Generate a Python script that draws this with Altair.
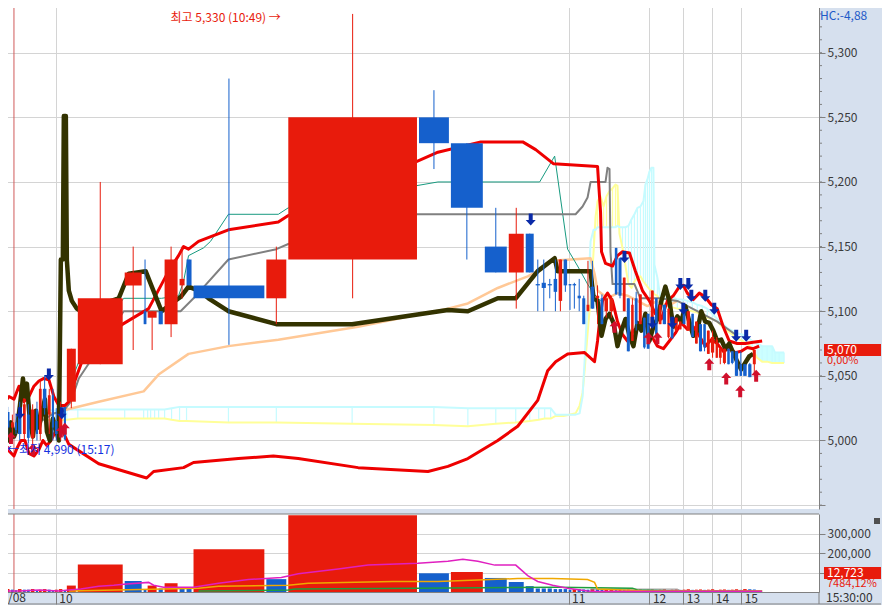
import altair as alt
import pandas as pd

FONT = "Noto Sans CJK KR"
RED, BLUE = "#E81B0C", "#1560CC"

# ---------------- candles (equivolume: width = traded volume) ----------------
volumes = [12000, 9000, 15000, 12000, 9000, 15000, 12000, 12000, 15000, 9000, 12000, 15000, 12000, 9000, 12000, 15000, 9000,
           33000, 141000, 57000, 12000, 33000, 18000, 45000, 21000, 21000, 219000, 66000, 393000, 96000, 102000, 72000,
           51000, 30000, 18000, 18000, 18000, 15000, 15000, 15000,
           12000, 15000, 14000, 13000,
           12000, 16000, 14000, 12000, 15000, 16000, 11000, 13000, 12000, 13000, 11000, 12000, 13000, 11000, 12000,
           13000, 11000, 12000, 14000, 10000, 12000, 13000, 11000, 12000, 14000, 11000, 12000, 13000, 11000, 12000,
           14000, 10000, 12000, 13000, 11000, 12000, 14000, 11000,
           15000, 14000, 12723]
opens = [5030, 5008, 5022, 5010, 5014, 5025, 5005, 5020, 5002, 5024, 5005, 5040, 5020, 5035, 5015, 5005, 5026,
         5030, 5059, 5120, 5100, 5095, 5100, 5090, 5120, 5140, 5120, 5110, 5140, 5250, 5230, 5150,
         5130, 5160, 5121, 5122, 5121, 5125, 5108, 5140,
         5121, 5121, 5112, 5110,
         5100, 5119, 5110, 5110, 5100, 5100, 5149, 5141, 5100, 5110, 5077, 5110, 5090, 5095, 5098,
         5090, 5110, 5090, 5105, 5080, 5095, 5085, 5086, 5100, 5085, 5098, 5075, 5090, 5090, 5067,
         5068, 5064, 5064, 5060, 5071, 5069, 5069, 5059,
         5059, 5059, 5059]
highs = [5034, 5030, 5026, 5020, 5020, 5030, 5032, 5028, 5028, 5030, 5046, 5050, 5040, 5040, 5025, 5030, 5026,
         5071, 5200, 5150, 5140, 5100, 5100, 5150, 5150, 5140, 5280, 5150, 5330, 5271, 5230, 5180,
         5180, 5160, 5140, 5140, 5125, 5140, 5140, 5140,
         5121, 5122, 5125, 5112,
         5139, 5139, 5120, 5113, 5110, 5112, 5149, 5141, 5126, 5110, 5110, 5115, 5113, 5095, 5098,
         5116, 5110, 5105, 5105, 5102, 5095, 5095, 5092, 5100, 5100, 5098, 5092, 5090, 5090, 5085,
         5085, 5080, 5071, 5071, 5071, 5069, 5069, 5069,
         5059, 5060, 5070]
lows = [5006, 4990, 5004, 5000, 5005, 5000, 5000, 4998, 4995, 5000, 5000, 5020, 5005, 5000, 5000, 5000, 5000,
        5025, 5059, 5070, 5090, 5070, 5090, 5080, 5110, 5120, 5074, 5090, 5110, 5210, 5140, 5130,
        5102, 5130, 5100, 5100, 5110, 5100, 5100, 5115,
        5101, 5102, 5100, 5090,
        5100, 5102, 5090, 5090, 5095, 5095, 5113, 5110, 5100, 5069, 5077, 5085, 5090, 5071, 5071,
        5090, 5082, 5090, 5090, 5079, 5079, 5085, 5086, 5090, 5085, 5080, 5075, 5069, 5069, 5067,
        5064, 5064, 5059, 5059, 5059, 5059, 5050, 5050,
        5050, 5049, 5050]
closes = [5010, 5025, 5010, 5014, 5008, 5005, 5028, 5002, 5024, 5005, 5040, 5025, 5035, 5010, 5005, 5020, 5001,
          5071, 5110, 5130, 5090, 5100, 5090, 5140, 5125, 5120, 5110, 5140, 5250, 5230, 5180, 5130,
          5160, 5130, 5120, 5118, 5120, 5115, 5140, 5120,
          5120, 5120, 5110, 5090,
          5105, 5102, 5112, 5090, 5110, 5110, 5113, 5112, 5126, 5069, 5105, 5090, 5113, 5072, 5071,
          5116, 5082, 5105, 5090, 5102, 5079, 5095, 5092, 5090, 5100, 5080, 5092, 5069, 5072, 5085,
          5080, 5078, 5071, 5071, 5059, 5060, 5050, 5050,
          5050, 5049, 5070]

# x axis: cumulative volume in thousand shares; hour boundaries
hour_pos = [171, 1713, 1956, 2058, 2145, 2232]
hour_lab = ["10", "11", "12", "13", "14", "15"]
day_sep = [45]
date_lab = "/08"
end_time = "15:30:00"
x_max = 2466

# ---------------- indicator lines (x: thousand shares, value: price) ----------------
ma_x = [0, 9, 18, 27, 36, 45, 54, 63, 72, 78, 84, 93, 102, 111, 120, 129, 138, 144, 153, 162,
        171, 180, 186, 192, 195, 201, 204, 210, 219, 234, 246, 360, 390, 441, 489, 519, 546, 570, 600, 630,
        690, 834, 1062, 1299, 1350, 1410, 1500, 1554, 1620, 1671, 1680, 1779, 1788, 1800, 1812, 1824, 1836, 1848, 1860, 1872,
        1884, 1896, 1908, 1920, 1932, 1944, 1956, 1968, 1980, 1992, 2004, 2016, 2028, 2040, 2052, 2064, 2076, 2088, 2100, 2112,
        2124, 2136, 2148, 2160, 2172, 2184, 2196, 2208, 2220, 2232, 2244, 2256, 2268]
ma_v = [5015, 5024, 5007, 5000, 5014, 5003, 5009, 5027, 5048, 5034, 5044, 5015, 5003, 5023, 5010, 5021, 5032, 5007, 5000, 5017,
        5009, 5000, 5140, 5140, 5251, 5251, 5140, 5116, 5108, 5102, 5100, 5110, 5129, 5131, 5100, 5106, 5111, 5119, 5116, 5110,
        5100, 5090, 5090, 5099, 5101, 5100, 5110, 5110, 5131, 5141, 5131, 5131, 5110, 5108, 5081, 5094, 5098, 5091, 5073, 5085,
        5094, 5081, 5073, 5091, 5085, 5098, 5077, 5088, 5094, 5108, 5119, 5108, 5088, 5096, 5092, 5104, 5092, 5081, 5085, 5100,
        5092, 5091, 5085, 5077, 5078, 5071, 5075, 5068, 5061, 5055, 5060, 5065, 5067]

bbu_x = [0, 15, 30, 45, 60, 75, 90, 105, 120, 135, 150, 165, 180, 198, 210, 225, 255, 300, 372, 450,
         510, 540, 555, 570, 600, 690, 840, 870, 1257, 1320, 1449, 1575, 1614, 1668, 1800, 1803, 1809, 1812, 1824, 1845,
         1860, 1875, 1896, 1914, 1935, 1956, 1974, 1992, 2010, 2028, 2046, 2058, 2070, 2088, 2106, 2124, 2142, 2160, 2178, 2196,
         2220, 2244, 2268, 2295]
bbu_v = [5027, 5029, 5034, 5032, 5042, 5030, 5034, 5042, 5046, 5048, 5047, 5034, 5027, 5027, 5030, 5044, 5065, 5077, 5090, 5102,
         5131, 5143, 5150, 5148, 5154, 5163, 5169, 5174, 5216, 5223, 5231, 5231, 5225, 5214, 5212, 5200, 5177, 5146, 5137, 5135,
         5143, 5146, 5145, 5131, 5116, 5108, 5098, 5094, 5108, 5112, 5119, 5120, 5114, 5109, 5114, 5111, 5105, 5102, 5088, 5077,
         5075, 5075, 5076, 5077]

bbl_x = [0, 15, 30, 45, 54, 66, 78, 90, 105, 120, 132, 144, 156, 168, 180, 192, 210, 300, 444, 465,
         555, 585, 720, 825, 900, 1080, 1290, 1350, 1410, 1500, 1560, 1620, 1650, 1674, 1710, 1761, 1791, 1800, 1806, 1815,
         1830, 1845, 1860, 1875, 1890, 1908, 1926, 1944, 1962, 1980, 1998, 2016, 2034, 2052, 2070, 2088, 2106, 2124, 2142, 2160,
         2178, 2196, 2214, 2232, 2250, 2268, 2286]
bbl_v = [5001, 4996, 4992, 4988, 4994, 5000, 5000, 4990, 4988, 4993, 5000, 4996, 5000, 5006, 5007, 5007, 4997, 4982, 4971, 4976,
         4979, 4983, 4986, 4988, 4986, 4979, 4976, 4980, 4986, 5000, 5011, 5031, 5054, 5061, 5067, 5068, 5061, 5077, 5092, 5108,
         5114, 5108, 5092, 5082, 5077, 5085, 5088, 5094, 5081, 5073, 5071, 5077, 5083, 5091, 5086, 5088, 5081, 5073, 5078, 5075,
         5069, 5071, 5068, 5069, 5072, 5071, 5073]

peach_x = [135, 171, 204, 300, 435, 480, 570, 690, 840, 1080, 1350, 1410, 1500, 1590, 1620, 1659, 1779, 1791, 1800, 1830,
           1860, 1890, 1920, 1950, 1980, 2010, 2040]
peach_v = [5021, 5021, 5024, 5030, 5038, 5051, 5067, 5073, 5078, 5088, 5102, 5106, 5118, 5127, 5131, 5139, 5141, 5129, 5116, 5110,
           5114, 5112, 5108, 5104, 5108, 5104, 5108]

gray_x = [126, 165, 195, 216, 240, 375, 546, 585, 690, 834, 870, 1257, 1734, 1755, 1770, 1779, 1824, 1830, 1836, 1839,
          1845, 1881, 1911, 1929, 1989, 2040, 2100, 2160, 2220]
gray_v = [5015, 5021, 5023, 5030, 5048, 5100, 5100, 5110, 5140, 5148, 5152, 5175, 5175, 5181, 5188, 5200, 5200, 5211, 5210, 5146,
          5121, 5121, 5121, 5110, 5110, 5108, 5100, 5092, 5081]

teal_x = [225, 240, 375, 489, 540, 555, 570, 615, 636, 690, 840, 870, 1320, 1626, 1671, 1710, 1740, 1770, 1791, 1809]
teal_v = [5051, 5061, 5110, 5110, 5112, 5123, 5143, 5149, 5154, 5175, 5175, 5180, 5200, 5200, 5220, 5148, 5135, 5121, 5113, 5108]

cloud_x = [120, 171, 204, 237, 378, 435, 447, 456, 468, 480, 498, 519, 543, 564, 690, 834, 1062, 1308, 1410, 1494,
           1554, 1596, 1623, 1641, 1659, 1674, 1698, 1734, 1746, 1755, 1761, 1767, 1773, 1779, 1788, 1794, 1800, 1809, 1818, 1827,
           1836, 1845, 1854, 1860, 1866, 1875, 1884, 1893, 1902, 1911, 1920, 1929, 1938, 1944, 1950, 1956, 1962, 1968, 1971, 1980,
           1989, 1998, 2010, 2025, 2040, 2055, 2070, 2085, 2100, 2115, 2130, 2145, 2160, 2175, 2190, 2205, 2220, 2235, 2250, 2265,
           2280, 2295, 2310, 2325, 2334, 2346, 2361]
cloud_a = [5024, 5023, 5024, 5024, 5024, 5024, 5024, 5024, 5024, 5024, 5024, 5025, 5026, 5026, 5026, 5026, 5026, 5026, 5025, 5025,
           5025, 5025, 5025, 5025, 5025, 5020, 5020, 5020, 5021, 5034, 5061, 5092, 5123, 5154, 5163, 5163, 5165, 5165, 5165, 5165,
           5165, 5165, 5165, 5166, 5165, 5165, 5165, 5166, 5171, 5175, 5180, 5181, 5185, 5198, 5202, 5208, 5211, 5211, 5136, 5126,
           5110, 5110, 5110, 5111, 5109, 5109, 5108, 5107, 5105, 5104, 5102, 5098, 5094, 5091, 5087, 5085, 5083, 5082, 5080, 5077,
           5075, 5073, 5073, 5073, 5068, 5068, 5068]
cloud_b = [5017, 5015, 5016, 5017, 5017, 5017, 5017, 5017, 5017, 5017, 5017, 5016, 5015, 5015, 5014, 5014, 5013, 5012, 5011, 5013,
           5014, 5015, 5016, 5017, 5017, 5019, 5019, 5021, 5027, 5037, 5054, 5073, 5092, 5108, 5146, 5173, 5185, 5189, 5181, 5189,
           5193, 5195, 5198, 5197, 5160, 5149, 5135, 5121, 5118, 5123, 5126, 5127, 5123, 5121, 5119, 5117, 5116, 5114, 5113, 5112,
           5108, 5106, 5104, 5103, 5102, 5102, 5101, 5100, 5099, 5097, 5095, 5094, 5092, 5088, 5085, 5082, 5079, 5077, 5075, 5071,
           5064, 5061, 5061, 5060, 5060, 5060, 5060]

sell_x = [1599, 1881, 2049, 2073, 2082, 2124, 2058, 2151, 1965, 2025, 2217, 2247, 15, 63, 150, 189]
sell_v = [5171, 5142, 5121, 5121, 5112, 5112, 5102, 5102, 5091, 5091, 5081, 5081, 5011, 5021, 5051, 5021]
buy_x = [1851, 1953, 1980, 2136, 2187, 2229, 2277, 21, 36, 102, 186, 198]
buy_v = [5088, 5079, 5079, 5059, 5048, 5038, 5050, 4993, 5002, 4993, 5007, 5009]

# volume moving averages (x: thousand shares, value: shares)
vm1_x = [0, 60, 120, 180, 210, 246, 300, 345, 375, 450, 465, 495, 585, 660, 750, 849, 900, 1020, 1110, 1260,
         1350, 1395, 1440, 1491, 1554, 1590, 1620, 1665, 1710, 1770, 1800, 2100, 2295]
vm1_v = [4900, 4900, 9900, 4900, 9900, 14800, 29600, 34500, 39400, 49300, 34500, 24600, 24600, 44300, 64000, 73900, 93600,
         118200, 137900, 147800, 157600, 167500, 157600, 137900, 137900, 83700, 54200, 34500, 19700, 4900, 2000, 4000, 4000]
vm2_x = [210, 600, 660, 870, 930, 1035, 1185, 1320, 1560, 1665, 1770, 1791, 1800, 1950, 2295]
vm2_v = [4900, 19700, 29600, 34500, 44300, 49300, 54200, 54200, 69000, 69000, 64000, 49300, 14800, 4900, 4900]
vm3_x = [600, 870, 891, 1260, 1680, 1905, 1920, 2040, 2295]
vm3_v = [4900, 9900, 14800, 19700, 24600, 19700, 9900, 4900, 4900]
vm4_x = [1779, 2040, 2055]
vm4_v = [14800, 14800, 1000]

# texts
hi_text, hi_x, hi_v = "최고 5,330 (10:49) →", 516, 5327
lo_text, lo_x, lo_v = "←최저 4,990 (15:17)", 24, 4993
hc_text = "HC:-4,88"
chg_text = "0,00%"
vol_ratio_text = "7484,12%"
price_ticks = [4950, 5000, 5050, 5100, 5150, 5200, 5250, 5300]
minor_ticks = list(range(4950, 5340, 10))
vol_ticks = [100000, 200000, 300000]

# ---------------- derived table ----------------
df = pd.DataFrame({"vol": volumes, "open": opens, "high": highs, "low": lows, "close": closes})
df["end"] = df["vol"].cumsum() / 1000.0
df["start"] = df["end"] - df["vol"] / 1000.0
df["bend"] = df["end"] - (df["vol"] / 1000.0 * 0.3).clip(upper=6)
df["mid"] = (df["start"] + df["bend"]) / 2
df["dir"] = (df["close"] >= df["open"]).map({True: "up", False: "down"})
df["vdir"] = (df["vol"] > df["vol"].shift(1)).map({True: "up", False: "down"})
df["zero"] = 0

W, HP, HV, BAND = 820, 508, 78, 12
XS = alt.Scale(domain=[0, x_max], nice=False, zero=False)
PS = alt.Scale(domain=[4947, 5340], nice=False, zero=False)
VS = alt.Scale(domain=[0, 400000], nice=False, zero=False)
DIR = alt.Scale(domain=["up", "down"], range=[RED, BLUE])
GRID = "#D4D4D4"
AXC = "#808080"

x_ax_p = alt.Axis(values=hour_pos, labels=False, ticks=False, domain=False, grid=True, gridColor=GRID, title=None)
label_expr = " : ".join(f"datum.value == {p} ? '{l}'" for p, l in zip(hour_pos, hour_lab)) + " : ''"
x_ax_v = alt.Axis(values=hour_pos, labelExpr=label_expr, tickSize=BAND, tickColor=AXC, domainColor=AXC,
                  grid=True, gridColor=GRID, labelAlign="left", labelBaseline="middle", labelPadding=-BAND / 2,
                  labelOffset=3, labelColor="#333333", labelFontSize=12, labelFont=FONT, labelFlush=False,
                  labelOverlap=False, title=None)
y_ax_p = alt.Axis(orient="right", values=price_ticks, format=",.0f",
                  labelExpr="datum.value < 5000 ? '' : datum.label",
                  tickSize=6, tickColor=AXC, domainColor=AXC, labelColor="#3A3A3A", labelFontSize=12, labelFont=FONT,
                  labelPadding=2, grid=True, gridColor=GRID, title=None)
y_ax_v = alt.Axis(orient="right", values=vol_ticks, format=",.0f", tickSize=6, tickColor=AXC, domainColor=AXC,
                  labelColor="#3A3A3A", labelFontSize=12, labelFont=FONT, labelPadding=2, grid=True, gridColor=GRID,
                  title=None)


def XP(f):
    return alt.X(f"{f}:Q", scale=XS, axis=x_ax_p)


def XV(f):
    return alt.X(f"{f}:Q", scale=XS, axis=x_ax_v)


def YP(f):
    return alt.Y(f"{f}:Q", scale=PS, axis=y_ax_p)


def YV(f):
    return alt.Y(f"{f}:Q", scale=VS, axis=y_ax_v)


def pline(xs, vs, color, width):
    d = pd.DataFrame({"x": xs, "v": vs})
    return alt.Chart(d).mark_line(color=color, strokeWidth=width, strokeJoin="round").encode(x=XP("x"), y=YP("v"))


def vline(xs, vs, color, width):
    d = pd.DataFrame({"x": xs, "v": vs})
    return alt.Chart(d).mark_line(color=color, strokeWidth=width).encode(x=XV("x"), y=YV("v"))


UP = "M0,-1.2L1,-0.1L0.4,-0.1L0.4,1.2L-0.4,1.2L-0.4,-0.1L-1,-0.1Z"
DOWN = "M0,1.2L1,0.1L0.4,0.1L0.4,-1.2L-0.4,-1.2L-0.4,0.1L-1,0.1Z"

cloud = pd.DataFrame({"x": cloud_x, "a": cloud_a, "b": cloud_b})
seps = pd.DataFrame({"x": day_sep})
last = closes[-1]
tag = pd.DataFrame({"v": [last], "top": [last + 4.6], "bot": [last - 4.6], "lab": [f"{last:,}"], "pct": [chg_text]})

price_layers = [
    alt.Chart(seps).mark_rule(color="#D05A5A", strokeWidth=1).encode(x=XP("x")),
    alt.Chart(cloud).transform_filter("datum.x >= 2280").mark_area(color="#CCFFFF").encode(x=XP("x"), y=YP("a"), y2="b:Q"),
    alt.Chart(cloud).transform_filter("datum.a >= datum.b").mark_rule(color="#C6FBFF", strokeWidth=1.2)
        .encode(x=XP("x"), y=YP("a"), y2="b:Q"),
    alt.Chart(cloud).transform_filter("datum.a < datum.b").mark_rule(color="#FFFF9E", strokeWidth=1.2)
        .encode(x=XP("x"), y=YP("a"), y2="b:Q"),
    pline(cloud_x, cloud_b, "#FFFF99", 2),
    pline(cloud_x, cloud_a, "#C6FBFF", 2),
    pline(peach_x, peach_v, "#FFC896", 2.5),
    pline(teal_x, teal_v, "#179A80", 1),
    pline(gray_x, gray_v, "#808080", 2),
    pline(bbu_x, bbu_v, "#EE0000", 3),
    pline(bbl_x, bbl_v, "#EE0000", 3),
    pline(ma_x, ma_v, "#333300", 4.5),
    alt.Chart(df).mark_rule(strokeWidth=1).encode(x=XP("mid"), y=YP("low"), y2="high:Q",
                                                  color=alt.Color("dir:N", scale=DIR, legend=None)),
    alt.Chart(df).mark_rect().encode(x=XP("start"), x2="bend:Q", y=YP("open"), y2="close:Q",
                                     color=alt.Color("dir:N", scale=DIR, legend=None)),
    alt.Chart(pd.DataFrame({"x": sell_x, "v": sell_v})).mark_point(shape=DOWN, filled=True, size=100, opacity=1,
                                                                    color="#0A2AA8", strokeWidth=0)
        .encode(x=XP("x"), y=YP("v")),
    alt.Chart(pd.DataFrame({"x": buy_x, "v": buy_v})).mark_point(shape=UP, filled=True, size=100, opacity=1,
                                                                  color="#D0102C", strokeWidth=0)
        .encode(x=XP("x"), y=YP("v")),
    alt.Chart(pd.DataFrame({"x": [hi_x], "v": [hi_v], "t": [hi_text]})).mark_text(
        align="left", baseline="middle", color=RED, fontSize=12, font=FONT).encode(x=XP("x"), y=YP("v"), text="t:N"),
    alt.Chart(pd.DataFrame({"x": [lo_x], "v": [lo_v], "t": [lo_text]})).mark_text(
        align="left", baseline="middle", color="#1432E0", fontSize=12, font=FONT).encode(x=XP("x"), y=YP("v"), text="t:N"),
    alt.Chart(pd.DataFrame({"v": minor_ticks})).mark_rule(color=AXC).encode(
        x=alt.value(W), x2=alt.value(W + 3), y=YP("v")),
    alt.Chart(tag).mark_rect(color=RED).encode(x=alt.value(W + 5), x2=alt.value(W + 62), y=YP("top"), y2="bot:Q"),
    alt.Chart(tag).mark_text(align="left", baseline="middle", color="white", fontSize=12, font=FONT).encode(
        x=alt.value(W + 8), y=YP("v"), text="lab:N"),
    alt.Chart(tag).mark_text(align="left", baseline="middle", color=RED, fontSize=11, font=FONT, dy=11).encode(
        x=alt.value(W + 8), y=YP("v"), text="pct:N"),
    alt.Chart(pd.DataFrame({"t": [hc_text]})).mark_text(align="left", baseline="middle", color="#1E5AC8",
                                                         fontSize=12, font=FONT).encode(
        x=alt.value(W + 1), y=alt.value(15), text="t:N"),
]

vtag = pd.DataFrame({"top": [128000], "bot": [66500], "mid": [97300], "lab": [f"{volumes[-1]:,}"],
                     "pct": [vol_ratio_text]})

vol_layers = [
    alt.Chart(seps).mark_rule(color="#D05A5A", strokeWidth=1).encode(x=XV("x")),
    alt.Chart(df).mark_rect().encode(x=XV("start"), x2="bend:Q", y=YV("vol"), y2="zero:Q",
                                     color=alt.Color("vdir:N", scale=DIR, legend=None)),
    vline(vm4_x, vm4_v, "#909090", 1),
    vline(vm3_x, vm3_v, "#1E9E3C", 1.5),
    vline(vm2_x, vm2_v, "#F0A800", 1.5),
    vline(vm1_x, vm1_v, "#E020C0", 1.5),
    alt.Chart(pd.DataFrame({"t": [0]})).mark_rule(color=AXC).encode(x=alt.value(0), x2=alt.value(W), y=alt.value(0)),
    alt.Chart(pd.DataFrame({"t": [0]})).mark_rule(color=AXC).encode(x=alt.value(0), x2=alt.value(W + 62),
                                                                    y=alt.value(HV + BAND)),
    alt.Chart(pd.DataFrame({"t": [0]})).mark_rule(color=AXC).encode(x=alt.value(W), y=alt.value(HV),
                                                                    y2=alt.value(HV + BAND)),
    alt.Chart(vtag).mark_rect(color=RED).encode(x=alt.value(W + 5), x2=alt.value(W + 62), y=YV("top"), y2="bot:Q"),
    alt.Chart(vtag).mark_text(align="left", baseline="middle", color="white", fontSize=12, font=FONT).encode(
        x=alt.value(W + 8), y=YV("mid"), text="lab:N"),
    alt.Chart(vtag).mark_text(align="left", baseline="middle", color=RED, fontSize=11, font=FONT, dy=11).encode(
        x=alt.value(W + 8), y=YV("mid"), text="pct:N"),
    alt.Chart(pd.DataFrame({"t": [0]})).mark_square(color="#505050", size=36, opacity=1).encode(
        x=alt.value(W + 58), y=alt.value(7)),
    alt.Chart(pd.DataFrame({"t": [date_lab]})).mark_text(align="left", baseline="middle", color="#333333",
                                                          fontSize=12, font=FONT).encode(
        x=alt.value(9), y=alt.value(HV + BAND / 2), text="t:N"),
    alt.Chart(pd.DataFrame({"t": [end_time]})).mark_text(align="left", baseline="middle", color="#333333",
                                                          fontSize=12, font=FONT).encode(
        x=alt.value(W + 7), y=alt.value(HV + BAND / 2), text="t:N"),
]

price = alt.layer(*price_layers).properties(width=W, height=HP)
vol = alt.layer(*vol_layers).properties(width=W, height=HV)

chart = (
    alt.vconcat(price, vol, spacing=3)
    .properties(padding={"left": -12, "top": -8, "right": 0, "bottom": 0})
    .configure(background="#D6E0EE", font=FONT)
    .configure_view(stroke=None, fill="white")
)

chart.save("out.html", embed_options={"renderer": "svg", "actions": False})
